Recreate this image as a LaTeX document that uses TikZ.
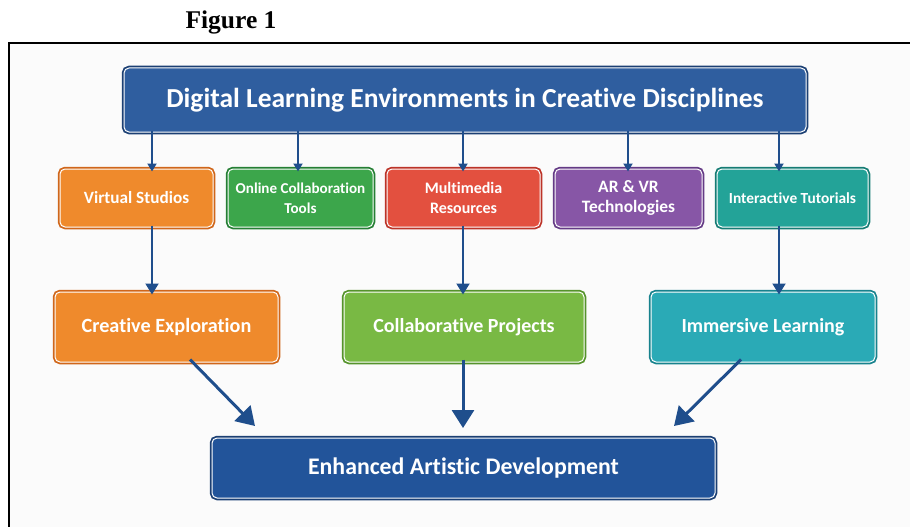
\documentclass[tikz,border=0pt]{standalone}
\usepackage{fontspec}
\setmainfont{Carlito}[Ligatures=NoCommon]
\newfontfamily\figfont{Liberation Serif}
\usetikzlibrary{arrows.meta}
\definecolor{arrc}{HTML}{1F4E8C}
\definecolor{topblue}{HTML}{2F5E9F}
\definecolor{topbluedk}{HTML}{1B3F73}
\definecolor{botblue}{HTML}{22549A}
\definecolor{orangef}{HTML}{EF8A2C}
\definecolor{oranged}{HTML}{D0661A}
\definecolor{greenf}{HTML}{3CA64B}
\definecolor{greend}{HTML}{257F34}
\definecolor{redf}{HTML}{E3503F}
\definecolor{redd}{HTML}{BC3328}
\definecolor{purplef}{HTML}{8756A6}
\definecolor{purpled}{HTML}{643A85}
\definecolor{tealf}{HTML}{23A398}
\definecolor{teald}{HTML}{157C74}
\definecolor{lgreenf}{HTML}{79B944}
\definecolor{lgreend}{HTML}{55932B}
\definecolor{cyanf}{HTML}{2AAAB6}
\definecolor{cyand}{HTML}{17828D}
\tikzset{
  boxbase/.style={rounded corners=5pt, text=white, font=\bfseries, align=center, inner sep=0pt, line width=1pt},
  cbox/.style 2 args={boxbase, fill=#1, draw=white, preaction={draw=#2, line width=4.5pt}},
  arrsmall/.style={draw=arrc, line width=1.8pt, -{Triangle[width=9pt,length=8pt]}},
  arrmid/.style={draw=arrc, line width=2pt, -{Triangle[width=13pt,length=11pt]}},
  arrbig/.style={draw=arrc, line width=3pt, -{Triangle[width=22pt,length=18pt]}},
}
\begin{document}
\begin{tikzpicture}[x=1pt,y=-1pt]
\useasboundingbox (0,0) rectangle (910,527);
\fill[white] (0,0) rectangle (910,527);
\fill[black!1.5] (9,43) rectangle (910,527);
\draw[black, line width=1.8pt] (9,527) -- (9,43) -- (910,43);
\node[font=\figfont\bfseries\fontsize{25.5}{30}\selectfont] (fig) at (231,22) {Figure 1};

\node[cbox={topblue}{topbluedk}, minimum width=682, minimum height=64, font=\bfseries\fontsize{27.5}{32}\selectfont] (title) at (465,100) {Digital Learning Environments in Creative Disciplines};

\node[cbox={orangef}{oranged}, minimum width=153, minimum height=58, font=\bfseries\fontsize{17.2}{20}\selectfont] (vs) at (136.5,198) {Virtual Studios};
\node[cbox={greenf}{greend}, minimum width=145, minimum height=58, font=\bfseries\fontsize{15.1}{20}\selectfont] (oct) at (300.5,198) {Online Collaboration\\Tools};
\node[cbox={redf}{redd}, minimum width=153, minimum height=58, font=\bfseries\fontsize{16}{20}\selectfont] (mr) at (463.5,198) {Multimedia\\Resources};
\node[cbox={purplef}{purpled}, minimum width=147, minimum height=58, font=\bfseries\fontsize{17.4}{20}\selectfont] (ar) at (628.5,198) {AR \& VR\\Technologies};
\node[cbox={tealf}{teald}, minimum width=151, minimum height=58, font=\bfseries\fontsize{15.4}{18}\selectfont] (it) at (792.5,198) {Interactive Tutorials};

\node[cbox={orangef}{oranged}, minimum width=223, minimum height=70, font=\bfseries\fontsize{20.2}{24}\selectfont] (ce) at (166.5,327) {Creative Exploration};
\node[cbox={lgreenf}{lgreend}, minimum width=240, minimum height=70, font=\bfseries\fontsize{20}{24}\selectfont] (cp) at (464,327) {Collaborative Projects};
\node[cbox={cyanf}{cyand}, minimum width=224, minimum height=70, font=\bfseries\fontsize{20}{24}\selectfont] (il) at (763,327) {Immersive Learning};

\node[cbox={botblue}{topbluedk}, minimum width=503, minimum height=60, font=\bfseries\fontsize{23.8}{28}\selectfont] (ead) at (463.5,468) {Enhanced Artistic Development};

\draw[arrsmall] ([yshift=2pt]title.south -| 152,0) -- ([yshift=-3pt]vs.north -| 152,0);
\draw[arrsmall] ([yshift=2pt]title.south -| 298,0) -- ([yshift=-3pt]oct.north -| 298,0);
\draw[arrsmall] ([yshift=2pt]title.south -| 463,0) -- ([yshift=-3pt]mr.north -| 463,0);
\draw[arrsmall] ([yshift=2pt]title.south -| 628,0) -- ([yshift=-3pt]ar.north -| 628,0);
\draw[arrsmall] ([yshift=2pt]title.south -| 779,0) -- ([yshift=-3pt]it.north -| 779,0);

\draw[arrmid] ([yshift=2pt]vs.south -| 152,0) -- ([yshift=-3pt]ce.north -| 152,0);
\draw[arrmid] ([yshift=2pt]mr.south -| 463,0) -- ([yshift=-3pt]cp.north -| 463,0);
\draw[arrmid] ([yshift=2pt]it.south -| 779,0) -- ([yshift=-3pt]il.north -| 779,0);

\coordinate (e1) at (255,426);
\coordinate (e2) at (463,428);
\coordinate (e3) at (674,426);
\draw[arrbig] ([yshift=3pt]ce.south -| 190,0) -- (e1);
\draw[arrbig] ([yshift=3pt]cp.south -| 463,0) -- (e2);
\draw[arrbig] ([yshift=3pt]il.south -| 741,0) -- (e3);
\end{tikzpicture}
\end{document}
